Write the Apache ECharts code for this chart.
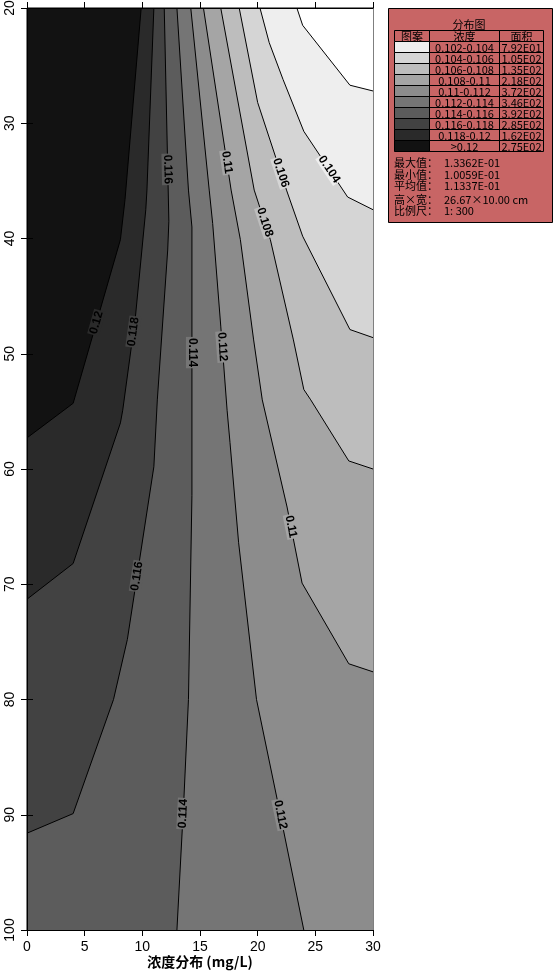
<!DOCTYPE html>
<html>
<head>
<meta charset="utf-8">
<script src="https://cdn.jsdelivr.net/npm/echarts@6/dist/echarts.min.js"></script>
<style>
  html, body { margin: 0; padding: 0; background: #fff; }
  #chart { width: 554px; height: 972px; }
</style>
</head>
<body>
<div id="chart"></div>
<script>
  // contour levels, low -> high
  const levels = [0.102, 0.104, 0.106, 0.108, 0.11, 0.112, 0.114, 0.116, 0.118, 0.12]
  // band colours: [0.102-0.104, ..., 0.118-0.12, >0.12]
  const bandColors = ['#eeeeee', '#d5d5d5', '#bdbdbd', '#a5a5a5', '#8c8c8c', '#757575', '#5c5c5c', '#424242', '#2a2a2a', '#121212']
  const belowColor = '#ffffff'
  const bandNames = ['0.102-0.104', '0.104-0.106', '0.106-0.108', '0.108-0.11', '0.11-0.112',
    '0.112-0.114', '0.114-0.116', '0.116-0.118', '0.118-0.12', '>0.12']
  const bandAreas = ['7.92E01', '1.05E02', '1.35E02', '2.18E02', '3.72E02', '3.46E02', '3.92E02', '2.85E02', '1.62E02', '2.75E02']
  const stats = [['最大值：', '1.3362E-01'], ['最小值：', '1.0059E-01'], ['平均值：', '1.1337E-01'],
    ['高×宽：', '26.67×10.00 cm'], ['比例尺：', '1: 300']]

  // contour lines as [concentration x, depth y], from the top edge down
  const c102 = [[23.4, 20], [23.9, 21.5], [28.0, 26.7], [30, 27.2]]
  const c104 = [[20.2, 20], [21.0, 23.0], [22.2, 26.2], [24.0, 30.7], [27.8, 36.4], [30, 37.5]]
  const c106 = [[18.4, 20], [20.0, 28.2], [22.5, 35.8], [23.9, 39.8], [28.0, 47.9], [30, 48.6]]
  const c108 = [[16.8, 20], [19.7, 35.8], [21.1, 40.1], [23.1, 48.8], [24.0, 53.1], [24.6, 54.0], [27.9, 59.3], [30, 60.0]]
  const c110 = [[15.3, 20], [17.7, 35.8], [18.5, 40.1], [19.65, 48.8], [20.4, 54.0], [22.55, 63.3], [23.85, 69.9], [27.9, 76.9], [30, 77.6]]
  const c112 = [[14.2, 20], [15.8, 35.8], [16.1, 38.7], [16.8, 47.6], [17.35, 54.9], [17.6, 57.7], [18.35, 66.4], [19.9, 80.0], [21.7, 88.7], [24.0, 100]]
  const c114 = [[13.0, 20], [14.0, 35.8], [14.3, 39.0], [14.3, 62.3], [14.0, 80.0], [13.6, 88.7], [13.0, 100]]
  const c116 = [[11.9, 20], [12.3, 38.5], [12.2, 41.0], [11.3, 54.0], [11.0, 59.8], [8.7, 74.8], [7.5, 80.0], [4.0, 89.9], [0, 91.6]]
  const c118 = [[11.0, 20], [10.4, 35.8], [10.3, 37.5], [9.4, 46.8], [8.3, 54.9], [8.1, 56.0], [4.0, 68.2], [0, 71.3]]
  const c120 = [[9.9, 20], [8.5, 36.6], [8.1, 40.1], [4.0, 54.3], [0, 57.3]]
  const contours = [c102, c104, c106, c108, c110, c112, c114, c116, c118, c120]

  // contour labels: [level, depth]
  const labelSpots = [[0.104, 34.0], [0.106, 34.3], [0.108, 38.6], [0.11, 33.4], [0.11, 65.0], [0.112, 49.4], [0.112, 90.0],
    [0.114, 49.9], [0.114, 89.9], [0.116, 34.0], [0.116, 69.3], [0.118, 48.1], [0.12, 47.3]]

  const xTicks = [0, 30, 5]
  const yTicks = [20, 100, 10]

  const myChart = echarts.init(document.getElementById('chart'))

  function xAtDepth(pts, y) {
    for (let k = 0; k < pts.length - 1; k++) {
      const a = pts[k], b = pts[k + 1]
      if ((y - a[1]) * (y - b[1]) <= 0 && a[1] != b[1]) {
        const t = (y - a[1]) / (b[1] - a[1])
        return [a[0] + t * (b[0] - a[0]), k]
      }
    }
    return [pts[0][0], 0]
  }

  function renderFill(params, api) {
    const i = api.value(2)
    const pts = contours[i]
    const end = pts[pts.length - 1]
    let corners
    if (end[0] <= 0) corners = [[0, 100], [30, 100], [30, 20]]
    else if (end[1] >= 100) corners = [[30, 100], [30, 20]]
    else corners = [[30, 20]]
    const points = pts.concat(corners).map(p => api.coord(p))
    return {
      type: 'polygon',
      shape: { points: points },
      style: { fill: i == 0 ? belowColor : bandColors[i - 1], stroke: null }
    }
  }

  function renderLine(params, api) {
    const i = api.value(2)
    const pts = contours[i]
    const children = [{
      type: 'polyline',
      shape: { points: pts.map(p => api.coord(p)) },
      style: { stroke: '#000', lineWidth: 1, fill: null }
    }]
    labelSpots.forEach(s => {
      if (s[0] != levels[i]) return
      const r = xAtDepth(pts, s[1])
      const p = api.coord([r[0], s[1]])
      const a0 = api.coord(pts[r[1]]), a1 = api.coord(pts[r[1] + 1])
      let ang = Math.atan2(a1[1] - a0[1], a1[0] - a0[0])
      if (ang > Math.PI / 2 + 0.001) ang -= Math.PI
      children.push({
        type: 'text',
        x: p[0], y: p[1],
        rotation: -ang,
        style: {
          text: String(levels[i]),
          font: 'bold 12px "Liberation Sans", Arial, sans-serif',
          fill: '#000',
          align: 'center',
          verticalAlign: 'middle',
          backgroundColor: i == 0 ? belowColor : bandColors[i - 1],
          padding: [0, 1]
        }
      })
    })
    return { type: 'group', children: children }
  }

  // legend box on the right
  const g = []
  const font = '11px "Noto Sans CJK SC", sans-serif'
  const colX = [394.5, 429.5, 499.5, 543.5]
  const headTop = 30.5, rowH = 11
  g.push({ type: 'rect', shape: { x: 388.5, y: 8.5, width: 164, height: 214 }, style: { fill: '#c86565', stroke: '#000', lineWidth: 1 } })
  g.push({ type: 'text', x: 469, y: 25, style: { text: '分布图', font: font, fill: '#000', align: 'center', verticalAlign: 'middle' } })
  const heads = ['图案', '浓度', '面积']
  for (let c = 0; c < 3; c++) {
    g.push({ type: 'rect', shape: { x: colX[c], y: headTop, width: colX[c + 1] - colX[c], height: rowH }, style: { fill: null, stroke: '#000', lineWidth: 1 } })
    g.push({ type: 'text', x: (colX[c] + colX[c + 1]) / 2, y: headTop + rowH / 2 + 0.5, style: { text: heads[c], font: font, fill: '#000', align: 'center', verticalAlign: 'middle' } })
  }
  for (let r = 0; r < bandNames.length; r++) {
    const y = headTop + rowH * (r + 1)
    g.push({ type: 'rect', shape: { x: colX[0], y: y, width: colX[1] - colX[0], height: rowH }, style: { fill: bandColors[r], stroke: '#000', lineWidth: 1 } })
    g.push({ type: 'rect', shape: { x: colX[1], y: y, width: colX[2] - colX[1], height: rowH }, style: { fill: null, stroke: '#000', lineWidth: 1 } })
    g.push({ type: 'rect', shape: { x: colX[2], y: y, width: colX[3] - colX[2], height: rowH }, style: { fill: null, stroke: '#000', lineWidth: 1 } })
    g.push({ type: 'text', x: (colX[1] + colX[2]) / 2, y: y + rowH / 2 + 0.5, style: { text: bandNames[r], font: font, fill: '#000', align: 'center', verticalAlign: 'middle' } })
    g.push({ type: 'text', x: (colX[2] + colX[3]) / 2, y: y + rowH / 2 + 0.5, style: { text: bandAreas[r], font: font, fill: '#000', align: 'center', verticalAlign: 'middle' } })
  }
  const statY = [163, 174.5, 186, 200, 211]
  stats.forEach((s, k) => {
    g.push({ type: 'text', x: 394, y: statY[k], style: { text: s[0], font: font, fill: '#000', align: 'left', verticalAlign: 'middle' } })
    g.push({ type: 'text', x: 444, y: statY[k], style: { text: s[1], font: font, fill: '#000', align: 'left', verticalAlign: 'middle' } })
  })

  const tickFont = '"Liberation Sans Narrow", "Arial Narrow", "Liberation Sans", sans-serif'
  const axisBase = {
    z: 10,
    axisLine: { show: true, lineStyle: { color: '#000', width: 1 } },
    axisTick: { show: true, inside: false, length: 6, lineStyle: { color: '#000' } },
    splitLine: { show: false }
  }

  const option = {
    animation: false,
    backgroundColor: '#fff',
    grid: {
      left: 27, right: 181, top: 8, bottom: 42,
      outerBoundsMode: 'none',
      containLabel: false,
      show: true,
      backgroundColor: bandColors[9],
      borderColor: '#000',
      borderWidth: 1
    },
    xAxis: [
      Object.assign({}, axisBase, {
        type: 'value', position: 'bottom',
        min: xTicks[0], max: xTicks[1], interval: xTicks[2],
        axisLabel: { color: '#000', fontSize: 14, fontFamily: tickFont, margin: 10 },
        name: '浓度分布 (mg/L)',
        nameLocation: 'middle',
        nameGap: 25,
        nameMoveOverlap: false,
        nameTextStyle: { color: '#000', fontSize: 14, fontWeight: 'bold', fontFamily: '"Noto Sans CJK SC", sans-serif' }
      }),
      Object.assign({}, axisBase, {
        type: 'value', position: 'top',
        min: xTicks[0], max: xTicks[1], interval: xTicks[2],
        axisLabel: { show: false }
      })
    ],
    yAxis: [
      Object.assign({}, axisBase, {
        type: 'value', position: 'left', inverse: true,
        min: yTicks[0], max: yTicks[1], interval: yTicks[2],
        axisLabel: { color: '#000', fontSize: 14, fontFamily: tickFont, rotate: 90, margin: 10 }
      }),
      Object.assign({}, axisBase, {
        type: 'value', position: 'right', inverse: true,
        min: yTicks[0], max: yTicks[1], interval: yTicks[2],
        axisLabel: { show: false }
      })
    ],
    graphic: { elements: g },
    series: [
      {
        name: 'fill',
        type: 'custom',
        coordinateSystem: 'cartesian2d',
        silent: true,
        z: 2,
        data: [9, 8, 7, 6, 5, 4, 3, 2, 1, 0].map(i => [0, 20, i]),
        renderItem: renderFill
      },
      {
        name: 'lines',
        type: 'custom',
        coordinateSystem: 'cartesian2d',
        silent: true,
        z: 3,
        data: levels.map((l, i) => [0, 20, i]),
        renderItem: renderLine
      }
    ]
  }
  myChart.setOption(option)
  window.addEventListener('resize', function () {
    myChart.resize()
  })
</script>
</body>
</html>
